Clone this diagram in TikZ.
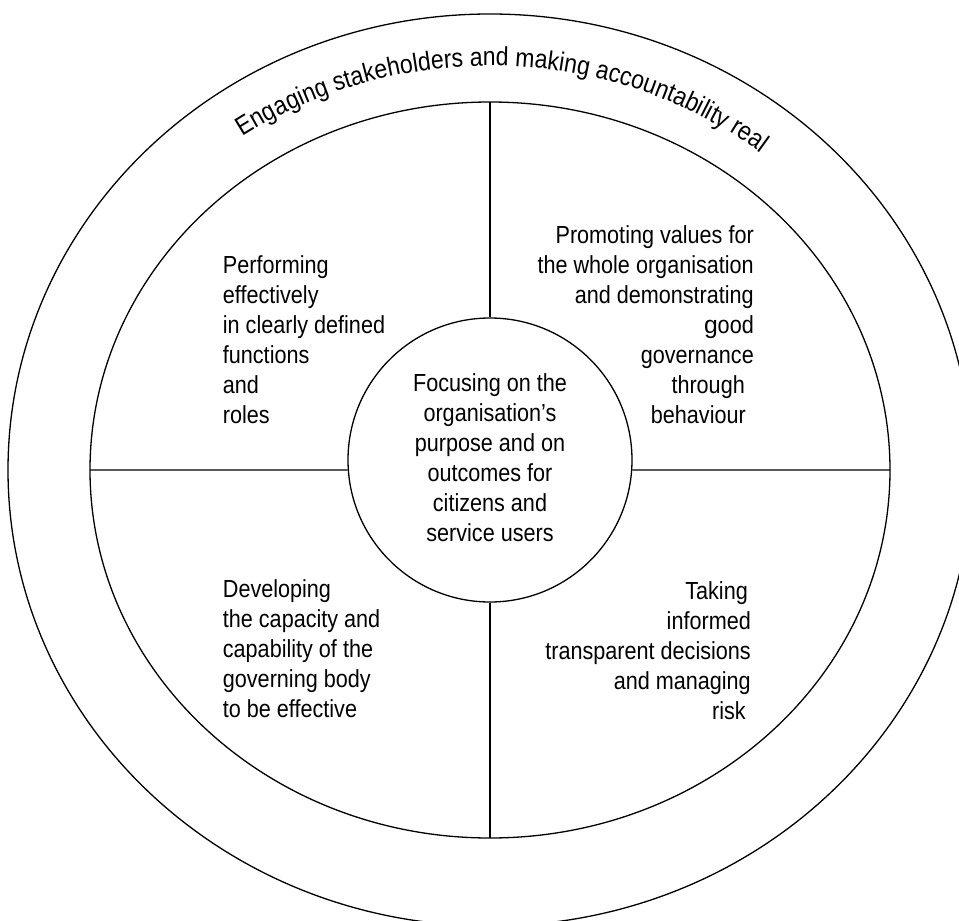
\documentclass[tikz,border=0pt]{standalone}
\usepackage{fontspec}
\setmainfont{Liberation Sans}[FakeStretch=0.875]
\newfontfamily\wideg{Liberation Sans}
\usetikzlibrary{decorations.text}
\newcommand\quadfont{\fontsize{24.7}{30}\selectfont}
\newcommand\arcfont{\fontsize{26.3}{30}\selectfont}
\begin{document}
\begin{tikzpicture}[x=1pt,y=1pt,
  ring/.style={draw, line width=1.3pt},
  qtext/.style={inner sep=0pt, font=\quadfont}]
\useasboundingbox (0,0) rectangle (959,-921);
\coordinate (C) at (490,-470);
% outer and inner rings
\draw[ring] (C) ellipse [x radius=482pt, y radius=456pt];
\draw[ring] (C) ellipse [x radius=400pt, y radius=368pt];
\coordinate (eT) at (490,-102);
\coordinate (eB) at (490,-838);
\coordinate (eL) at (90,-470);
\coordinate (eR) at (890,-470);
% hub
\node[circle, ring, minimum size=284pt, inner sep=0pt, font=\quadfont] (hub) at (490,-460)
  {\begin{tabular}[t]{@{}c@{}}Focusing on the\\organisation’s\\purpose and on\\outcomes for\\citizens and\\service users\end{tabular}};
\draw[ring] (eT) -- (hub.north);
\draw[ring] (hub.south) -- (eB);
\draw[ring] (eL) -- (hub.184);
\draw[ring] (hub.-4) -- (eR);
% quadrant texts
\node[qtext, anchor=base west] (tl) at (222.7,-273)
  {\begin{tabular}[t]{@{}l@{}}Performing\\effectively\\in clearly defined\\functions\\and\\roles\end{tabular}};
\node[qtext, anchor=base east] (tr) at (754,-243)
  {\begin{tabular}[t]{@{}r@{}}Promoting values for\\the whole organisation\\and demonstrating\\{\wideg g}ood\\governance\\through\kern9pt\\behaviour\kern8pt\end{tabular}};
\node[qtext, anchor=base west] (bl) at (222.7,-597)
  {\begin{tabular}[t]{@{}l@{}}Developing\\the capacity and\\capability of the\\governing body\\to be effective\end{tabular}};
\node[qtext, anchor=base east] (br) at (751,-599)
  {\begin{tabular}[t]{@{}r@{}}Taking\kern3pt\\informed\\transparent decisions\\and managing\\risk\kern5pt\end{tabular}};
% arc text
\path[decorate, decoration={text along path,
    text={|\arcfont|Engaging stakeholders and making accountability real},
    text align=center}]
  (C) ++(148:437pt and 404pt) arc[start angle=148, end angle=28, x radius=437pt, y radius=404pt];
\end{tikzpicture}
\end{document}
